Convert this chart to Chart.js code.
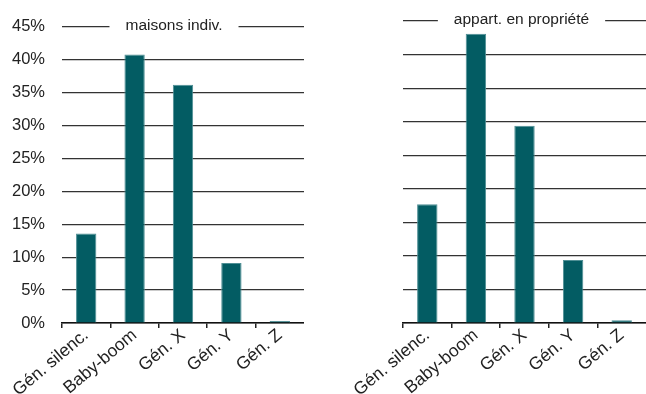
<!DOCTYPE html>
<html>
<head>
<meta charset="utf-8">
<script src="https://cdn.jsdelivr.net/npm/chart.js@4/dist/chart.umd.min.js"></script>
<style>
  body { margin: 0; background: #fff; }
  .box { position: absolute; top: 0; height: 394px; }
</style>
</head>
<body>
<div class="box" style="left:0;width:322px"><canvas id="left"></canvas></div>
<div class="box" style="left:330px;width:316px"><canvas id="right"></canvas></div>
<script>
"use strict";

// données
const generations = ["Gén. silenc.", "Baby-boom", "Gén. X", "Gén. Y", "Gén. Z"];
const maisonsIndiv = [13.6, 40.8, 36.2, 9.1, 0.3];
const appartProprio = [17.7, 43.1, 29.4, 9.4, 0.4];
const yTicks = [0, 5, 10, 15, 20, 25, 30, 35, 40, 45];
const titles = ["maisons indiv.", "appart. en propriété"];

const FONT = "'Liberation Sans', Arial, sans-serif";

// titre posé sur la ligne des 45 %
const titleOnLine = {
    id: "titleOnLine",
    afterDraw(chart, args, opts) {
        const c = chart.ctx;
        const y = chart.scales.y.getPixelForValue(45);
        const area = chart.chartArea;
        const cx = (area.left + area.right) / 2 + opts.shift;
        c.save();
        c.font = "15.5px " + FONT;
        const w = c.measureText(opts.text).width;
        c.fillStyle = "#fff";
        c.fillRect(cx - w / 2 - 16, y - 10, w + 32, 20);
        c.fillStyle = "#222";
        c.textAlign = "center";
        c.textBaseline = "middle";
        c.fillText(opts.text, cx, y - 1);
        c.restore();
    }
};

function makeChart(id, values, title, showY, yWidth, shift) {
    const ctx = document.getElementById(id).getContext("2d");
    return new Chart(ctx, {
        type: "bar",
        data: {
            labels: generations,
            datasets: [{
                data: values,
                backgroundColor: "#035c63",
                borderColor: "#4f8f95",
                borderWidth: 1,
                barPercentage: 0.42,
                categoryPercentage: 1
            }]
        },
        options: {
            responsive: false,
            animation: false,
            layout: { padding: { top: 21, right: 0, left: 0, bottom: 0 } },
            plugins: {
                legend: { display: false },
                tooltip: { enabled: false },
                titleOnLine: { text: title, shift: shift }
            },
            scales: {
                x: {
                    afterFit(s) { s.height = 71; },
                    grid: {
                        drawOnChartArea: false,
                        tickLength: 5,
                        color: (c) => c.index < generations.length ? "#222" : "rgba(0,0,0,0)",
                        lineWidth: 1.5
                    },
                    border: { color: "#111", width: 1.5 },
                    ticks: {
                        minRotation: 40,
                        maxRotation: 40,
                        color: "#222",
                        font: { family: FONT, size: 17.5 },
                        padding: -3
                    }
                },
                y: {
                    min: 0,
                    max: 45,
                    afterFit(s) { s.width = yWidth; },
                    afterBuildTicks(s) { s.ticks = yTicks.map(v => ({ value: v })); },
                    border: { display: false },
                    grid: {
                        drawTicks: false,
                        color: "#333",
                        lineWidth: 1.2
                    },
                    ticks: {
                        display: showY,
                        padding: 17,
                        color: "#222",
                        font: { family: FONT, size: 16.5 },
                        callback: (v) => v + "%"
                    }
                }
            }
        },
        plugins: [titleOnLine]
    });
}

document.getElementById("left").width = 304;
document.getElementById("left").height = 394;
document.getElementById("right").width = 316;
document.getElementById("right").height = 394;

makeChart("left", maisonsIndiv, titles[0], true, 62, -9);
makeChart("right", appartProprio, titles[1], false, 73, -3);
</script>
</body>
</html>
